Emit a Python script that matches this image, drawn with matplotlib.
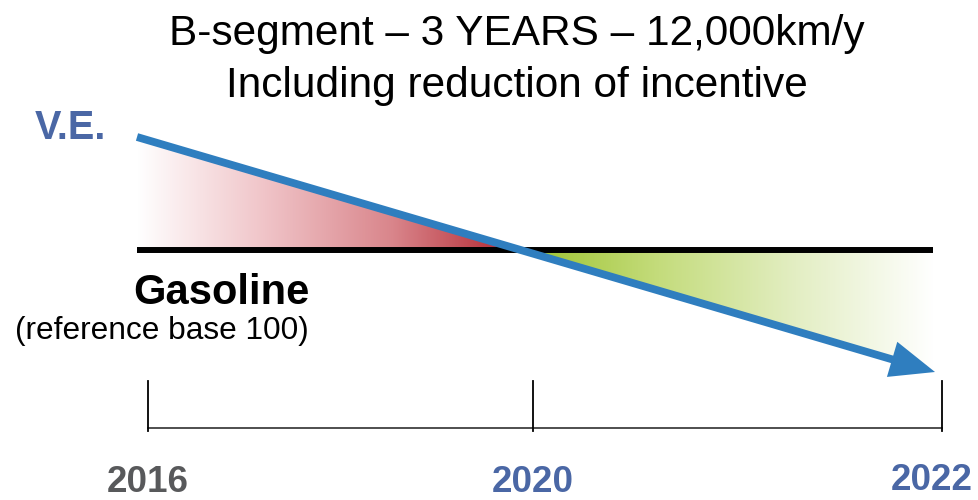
import numpy as np
import matplotlib
matplotlib.use("Agg")
import matplotlib.pyplot as plt
from matplotlib.colors import LinearSegmentedColormap
from matplotlib.patches import Polygon

plt.rcParams['font.family'] = ['Liberation Sans', 'DejaVu Sans']

# data (cost index, gasoline = base 100)
years = ['2016', '2020', '2022']
year_x = [148, 533, 942]
label_x = [148, 533, 932]
year_colors = ['#58595b', '#4a67a5', '#4a67a5']
gasoline = 100
line_x = [137, 933]
ve_x = [137, 935]
ve_vals = [122.6, 75.6]

fig = plt.figure(figsize=(9.79, 5.0), dpi=100)
ax = fig.add_axes([0, 0, 1, 1])
ax.set_xlim(0, 979)
ax.set_ylim(50, 150)
ax.axis('off')

# crossing point of V.E. and gasoline
slope = (ve_vals[1] - ve_vals[0]) / (ve_x[1] - ve_x[0])
cross_x = ve_x[0] + (gasoline - ve_vals[0]) / slope
ve_at_end = ve_vals[0] + slope * (line_x[1] - ve_x[0])

# red gradient (V.E. more expensive)
reds = LinearSegmentedColormap.from_list('r', ['#ffffff', '#f0c4c8', '#d9858b', '#b0212b'])
grad = np.linspace(0, 1, 256).reshape(1, -1)
im = ax.imshow(grad, cmap=reds, aspect='auto', extent=[ve_x[0], cross_x, gasoline, ve_vals[0]],
               origin='lower', zorder=1)
tri = Polygon([(ve_x[0], gasoline), (ve_x[0], ve_vals[0]), (cross_x, gasoline)],
              closed=True, transform=ax.transData, facecolor='none', edgecolor='none')
ax.add_patch(tri)
im.set_clip_path(tri)

# green gradient (V.E. cheaper)
greens = LinearSegmentedColormap.from_list('g', ['#9cc22c', '#c4dc7c', '#e3eec3', '#ffffff'])
im2 = ax.imshow(grad, cmap=greens, aspect='auto', extent=[cross_x, line_x[1], ve_at_end, gasoline],
                origin='lower', zorder=1)
tri2 = Polygon([(cross_x, gasoline), (line_x[1], gasoline), (line_x[1], ve_at_end)],
               closed=True, transform=ax.transData, facecolor='none', edgecolor='none')
ax.add_patch(tri2)
im2.set_clip_path(tri2)

# gasoline reference line
ax.plot(line_x, [gasoline, gasoline], color='black', lw=4.3, solid_capstyle='butt', zorder=2)

# V.E. arrow
ax.annotate('', xy=(ve_x[1], ve_vals[1]), xytext=(ve_x[0], ve_vals[0]),
            arrowprops=dict(arrowstyle='-|>,head_length=2.2,head_width=0.9', color='#2f7ebf',
                            lw=5.6, shrinkA=0, shrinkB=0, mutation_scale=10,
                            capstyle='butt', joinstyle='miter'),
            zorder=3)

# timeline
tl_y = 64.4
tick_top = 73.8
ax.plot([year_x[0], year_x[-1]], [tl_y, tl_y], color='#404040', lw=1.3, zorder=2)
for x in year_x:
    ax.plot([x, x], [tl_y - 0.5, tick_top], color='black', lw=1.3, zorder=2)

label_y = [51.7, 51.5, 51.9]
for lab, x, c, y in zip(years, label_x, year_colors, label_y):
    ax.text(x, y, lab, ha='center', va='baseline', fontsize=26.5, fontweight='bold', color=c,
            family=['Liberation Sans Narrow', 'Liberation Sans', 'DejaVu Sans'])

# texts
ax.text(517, 141, 'B-segment – 3 YEARS – 12,000km/y', ha='center', va='baseline', fontsize=30.5)
ax.text(517, 130.6, 'Including reduction of incentive', ha='center', va='baseline', fontsize=30.5)
ax.text(35, 122.2, 'V.E.', ha='left', va='baseline', fontsize=28.5, fontweight='bold', color='#4a67a5')
ax.text(221, 89.2, 'Gasoline', ha='center', va='baseline', fontsize=30, fontweight='bold')
ax.text(162, 82.2, '(reference base 100)', ha='center', va='baseline', fontsize=22.8)

fig.savefig('out.png', dpi=100)
